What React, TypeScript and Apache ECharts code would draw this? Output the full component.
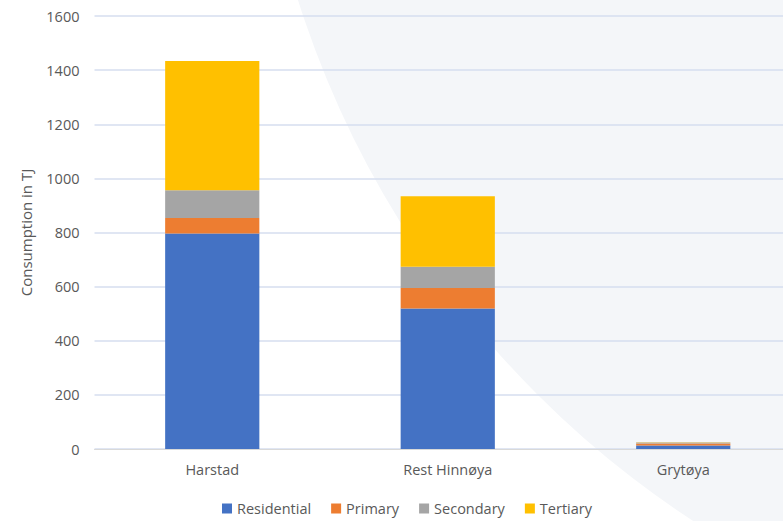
import React, { useEffect, useRef } from "react";
import * as echarts from "echarts";

const categories = ["Harstad", "Rest Hinnøya", "Grytøya"];
const seriesNames = ["Residential", "Primary", "Secondary", "Tertiary"];
const residential = [796, 519, 13];
const primary = [58, 76, 7];
const secondary = [102, 78, 4];
const tertiary = [478, 261, 1];
const colors = ["#4472C4", "#ED7D31", "#A5A5A5", "#FFC000"];
const yTicks = { min: 0, max: 1600, interval: 200 };

const FONT = "'Open Sans', 'Noto Sans', sans-serif";

export default function App() {
  const ref = useRef<HTMLDivElement>(null);
  useEffect(() => {
    document.body.style.margin = "0";
    const chart = echarts.init(ref.current!, null, { renderer: "svg" });
    const values = [residential, primary, secondary, tertiary];
    chart.setOption({
      animation: false,
      backgroundColor: "#ffffff",
      textStyle: { fontFamily: FONT },
      graphic: [
        {
          type: "circle",
          z: -10,
          silent: true,
          shape: { cx: 1224, cy: -292, r: 971 },
          style: { fill: "#f4f6f9" },
        },
      ],
      legend: {
        left: 217,
        bottom: 0,
        itemWidth: 10,
        itemHeight: 10,
        itemGap: 20,
        icon: "rect",
        textStyle: { color: "#595959", fontSize: 14.5, fontFamily: FONT },
        data: seriesNames,
      },
      grid: { left: 94.5, top: 16, right: -18, bottom: 72, outerBoundsMode: "none", containLabel: false },
      xAxis: {
        type: "category",
        data: categories,
        axisLine: { lineStyle: { color: "#d9d9d9", width: 1 } },
        axisTick: { show: false },
        axisLabel: { color: "#595959", fontSize: 14.5, margin: 13, fontFamily: FONT },
      },
      yAxis: {
        type: "value",
        min: yTicks.min,
        max: yTicks.max,
        interval: yTicks.interval,
        name: "Consumption in TJ",
        nameLocation: "middle",
        nameGap: 61,
        nameTextStyle: { color: "#595959", fontSize: 15, fontFamily: FONT },
        axisLine: { show: false },
        axisTick: { show: false },
        axisLabel: {
          color: "#595959",
          fontSize: 14.5,
          margin: 15,
          fontFamily: FONT,
          formatter: (v: number) => String(v),
        },
        splitLine: { lineStyle: { color: "#d6deef", width: 1.5 } },
      },
      series: seriesNames.map((n, i) => ({
        name: n,
        type: "bar",
        stack: "total",
        barWidth: "40%",
        data: values[i],
        itemStyle: { color: colors[i] },
      })),
    });
    return () => chart.dispose();
  }, []);
  return <div ref={ref} style={{ width: 783, height: 521, position: "absolute", left: 0, top: 0 }} />;
}
